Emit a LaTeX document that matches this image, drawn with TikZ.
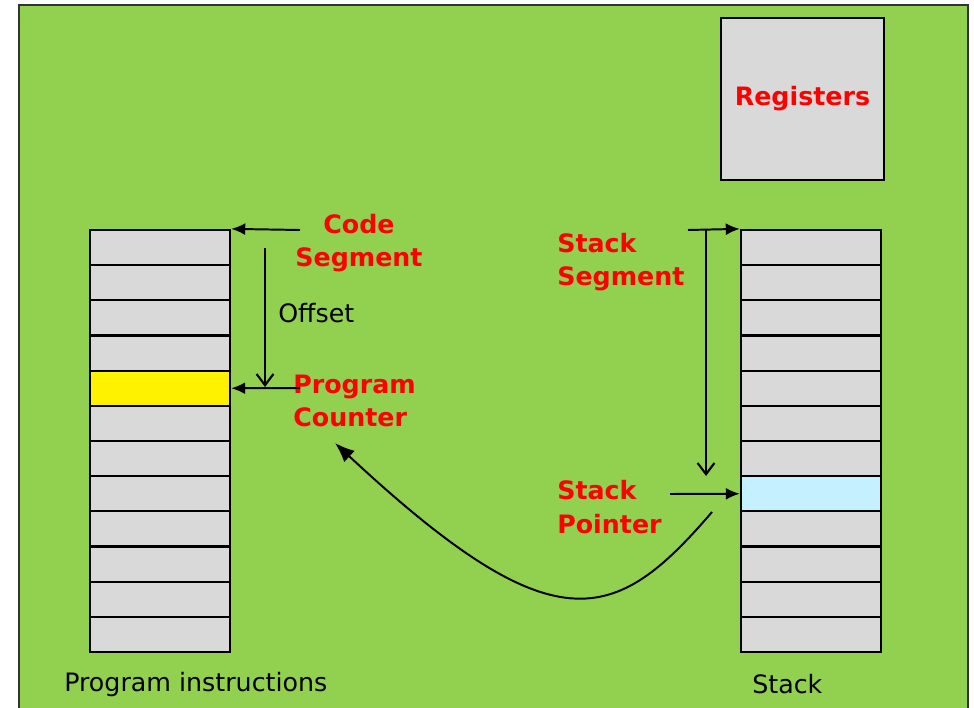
\documentclass[tikz,border=0pt]{standalone}
\usepackage{fontspec}
\setmainfont{DejaVu Sans}
\usetikzlibrary{arrows.meta}
\usetikzlibrary{positioning}
\definecolor{slidegreen}{RGB}{146,208,80}
\definecolor{cellgray}{RGB}{217,217,217}
\definecolor{spcyan}{RGB}{197,240,255}
\tikzset{
    cell/.style={
           rectangle,
           draw=black, line width=1.6pt,
           fill=cellgray,
           minimum width=3.5cm,
           minimum height=0.879cm,
           inner sep=0pt,
           },
    seglabel/.style={
           text=red,
           font=\bfseries\fontsize{18}{24}\selectfont,
           align=left,
           inner sep=0pt,
           },
    caption/.style={font=\fontsize{18}{24}\selectfont, inner sep=0pt},
    ptr/.style={-{Latex[length=10pt,width=8.5pt]}, line width=1.4pt},
    offs/.style={-{Straight Barb[length=8pt,width=12pt]}, line width=1.5pt},
}

\begin{document}
\begin{tikzpicture}[x=0.025cm, y=-0.025cm]
      \useasboundingbox (0,0) rectangle (974,708);
      \filldraw[fill=slidegreen, draw=black!80, line width=1.5pt] (19,5) rectangle (968,730);

      % registers box
      \node[cell, minimum width=4.075cm, minimum height=4.05cm] (regs) at (802.5,99)
            {\color{red}\bfseries\fontsize{18}{24}\selectfont Registers};

      % program memory and stack, 12 slots each
      \foreach \i in {1,...,12} {
          \def\pcol{cellgray}\def\scol{cellgray}
          \ifnum\i=5 \def\pcol{yellow}\fi
          \ifnum\i=8 \def\scol{spcyan}\fi
          \node[cell, fill=\pcol] (pi\i) at (160,{230+(\i-0.5)*35.17}) {};
          \node[cell, fill=\scol] (st\i) at (811,{230+(\i-0.5)*35.17}) {};
      }

      \node[caption, anchor=west] (picap) at (64,685) {Program instructions};
      \node[caption, anchor=west] (stcap) at (752,684) {Stack};

      % segment labels
      \node[seglabel, align=center] (cs) at (359,243) {Code\\Segment};
      \node[seglabel, anchor=west] (pc) at (293,401) {Program\\Counter};
      \node[seglabel, anchor=west] (ss) at (557,262) {Stack\\Segment};
      \node[seglabel, anchor=west] (sp) at (557,507) {Stack\\Pointer};
      \node[caption, anchor=west] (off) at (278,313) {Offset};

      \coordinate (cs-tail) at (300,230);
      \coordinate (pc-tail) at (300,388);
      \coordinate (off-top) at (265,248);
      \coordinate (off-end) at (265,387);
      \coordinate (ss-tail) at (688,230);
      \coordinate (ss-down) at (706,230);
      \coordinate (ss-end) at (706,476);
      \coordinate (sp-tail) at (670,494);
      \coordinate (sp-curve) at (712,512);
      \coordinate (pc-tip) at (335,443);

      \draw[ptr] (cs-tail) -- (pi1.north east);
      \draw[ptr] (pc-tail) -- (pi5.east);
      \draw[offs] (off-top) -- (off-end);
      \draw[ptr] (ss-tail) -- (st1.north west);
      \draw[offs] (ss-down) -- (ss-end);
      \draw[ptr] (sp-tail) -- (st8.west);
      \draw[ptr, -{Latex[length=14pt,width=11pt]}] (sp-curve) .. controls (615,625) and (555,648) .. (pc-tip);
\end{tikzpicture}
\end{document}
